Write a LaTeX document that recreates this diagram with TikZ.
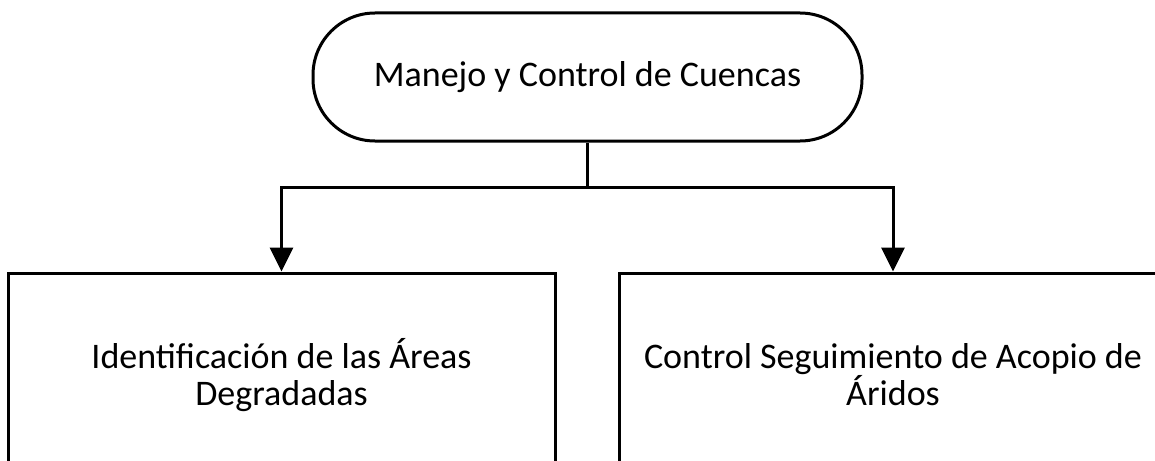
\documentclass[tikz,border=0pt]{standalone}
\usepackage{fontspec}
\setmainfont{Carlito}
\usetikzlibrary{arrows.meta}
\begin{document}
\begin{tikzpicture}[x=1pt,y=-1pt,
  every node/.style={font=\fontsize{36}{37}\selectfont, inner sep=0pt, align=center},
  box/.style={draw=black, line width=3pt, fill=white},
  term/.style={box, rounded corners=62pt, minimum width=549pt, minimum height=128pt},
  proc/.style={box, minimum width=547pt, minimum height=204pt},
  link/.style={draw=black, line width=3pt},
  arr/.style={link, -{Triangle[width=23pt,length=24pt]}}]
\useasboundingbox (0,0) rectangle (1155,460);
\clip (0,0) rectangle (1155,460);
\node[term] (top) at (587.5,77) {Manejo y Control de Cuencas};
\node[proc] (left) at (281.5,375) {Identificación de las Áreas\\Degradadas};
\node[proc] (right) at (893,375) {Control Seguimiento de Acopio de\\Áridos};
\coordinate (j) at (587.5,187);
\draw[link] (top.south) -- (j);
\draw[arr] (j) -| (left.north);
\draw[arr] (j) -| (right.north);
\end{tikzpicture}
\end{document}
